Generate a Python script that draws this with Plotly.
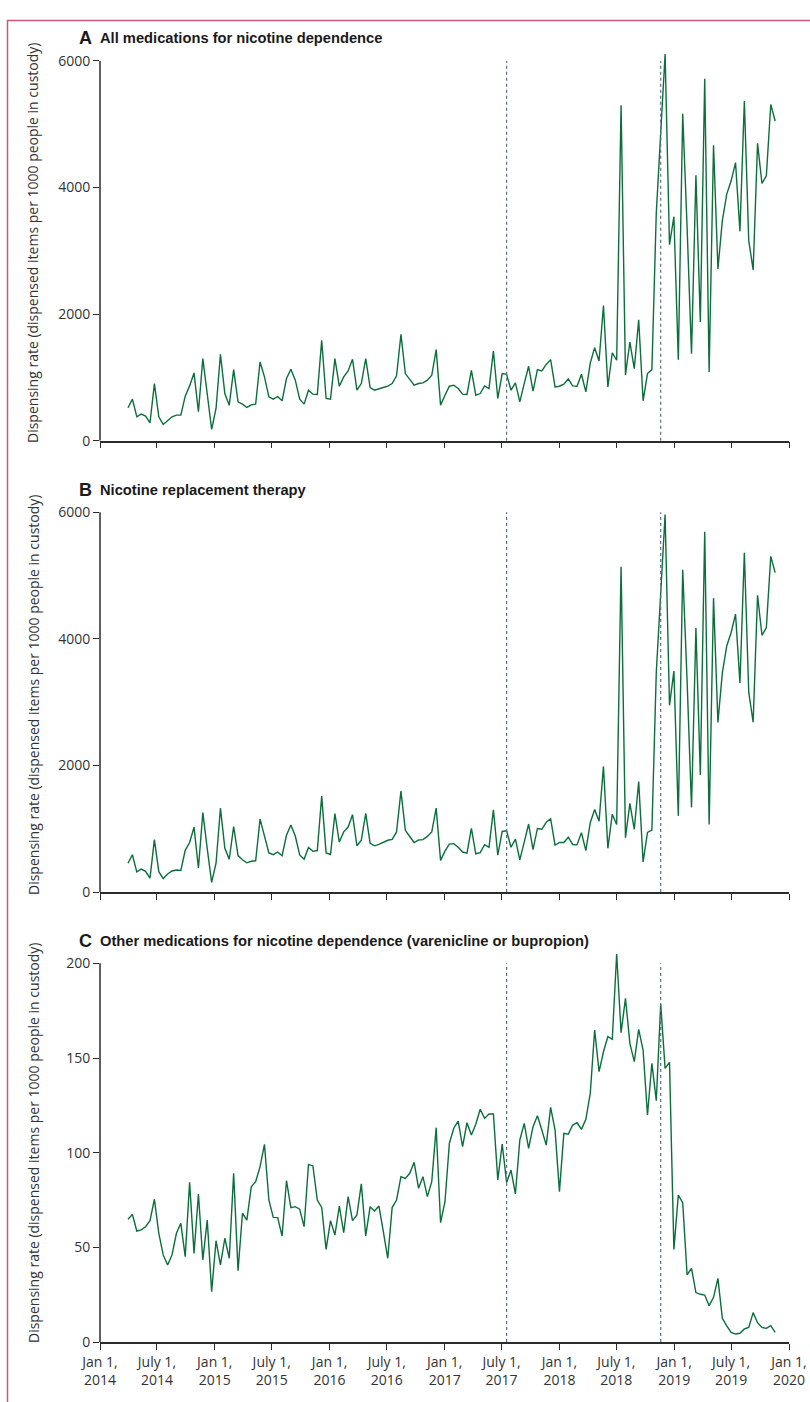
import pandas as pd
import plotly.graph_objects as go

# ---- data -------------------------------------------------------------
start_date = "2014-03-31"
n_periods = 148
period = "14D"

all_meds = [520, 656, 378, 420, 388, 283, 903, 378, 257, 325, 378, 404, 404, 703, 866, 1071, 457, 1297, 750, 178,
            509, 1365, 745, 562, 1124, 614, 578, 525, 567, 578, 1244, 1008, 693, 656, 698, 630, 982, 1129, 956, 656,
            578, 798, 735, 730, 1586, 667, 656, 1297, 861, 1008, 1103, 1286, 798, 903, 1297, 840, 798, 824, 840, 861,
            903, 1024, 1680, 1061, 966, 877, 903, 914, 956, 1034, 1439, 562, 719, 861, 877, 824, 735, 730, 1113, 719,
            745, 866, 824, 1418, 667, 1061, 1050, 798, 914, 614, 903, 1176, 782, 1124, 1103, 1205, 1281, 851, 861, 893,
            975, 866, 861, 1050, 772, 1225, 1470, 1260, 2137, 851, 1390, 1271, 5300, 1040, 1559, 1139, 1911, 630, 1061, 1124,
            3600, 4900, 6110, 3098, 3539, 1281, 5166, 3370, 1376, 4195, 1874, 5717, 1087, 4667, 2714, 3476, 3896, 4106, 4394, 3308,
            5366, 3161, 2699, 4699, 4064, 4184, 5313, 5051]

nrt = [455, 589, 319, 361, 327, 219, 828, 321, 211, 284, 332, 347, 341, 658, 782, 1024, 379, 1254, 686, 151,
       455, 1324, 690, 518, 1035, 576, 510, 461, 485, 493, 1151, 904, 618, 590, 632, 574, 897, 1058, 884, 586,
       517, 704, 642, 655, 1515, 618, 592, 1240, 789, 950, 1026, 1222, 731, 819, 1241, 768, 729, 752, 782, 817,
       832, 949, 1593, 975, 877, 782, 822, 827, 879, 949, 1326, 499, 645, 756, 764, 707, 632, 614, 1004, 604,
       622, 748, 704, 1298, 581, 956, 966, 707, 836, 507, 787, 1074, 668, 1004, 991, 1101, 1157, 739, 782, 783,
       865, 751, 745, 938, 654, 1094, 1305, 1117, 1984, 690, 1230, 1066, 5137, 858, 1401, 991, 1746, 476, 941, 977,
       3472, 4721, 5965, 2950, 3490, 1203, 5092, 3335, 1337, 4169, 1849, 5692, 1068, 4643, 2680, 3463, 3887, 4101, 4390, 3303,
       5359, 3153, 2683, 4689, 4056, 4177, 5304, 5046]

other_meds = [64.8, 67.4, 58.6, 59.2, 60.9, 64.1, 75.4, 57.4, 46.0, 40.7, 46.0, 57.4, 62.7, 45.1, 84.3, 46.8, 78.2, 43.3, 64.4, 26.6,
              53.5, 40.7, 54.8, 44.2, 89.1, 37.7, 68.0, 64.4, 82.0, 84.7, 92.6, 104.4, 75.0, 65.8, 65.7, 56.0, 85.2, 71.0, 71.5, 70.2,
              60.9, 93.8, 93.0, 75.0, 71.1, 48.9, 64.1, 56.5, 71.8, 57.7, 76.8, 64.1, 67.1, 83.5, 56.0, 71.5, 69.2, 71.8, 58.3, 44.2,
              71.0, 75.0, 87.3, 86.4, 89.1, 94.9, 81.2, 87.3, 76.8, 84.7, 113.2, 63.0, 74.1, 104.9, 112.9, 116.7, 103.2, 115.8, 109.3, 115.0,
              122.9, 118.1, 120.4, 120.4, 85.6, 104.6, 84.2, 90.8, 78.2, 106.7, 115.5, 102.3, 113.7, 119.5, 112.0, 104.0, 123.9, 112.0, 79.4, 110.2,
              109.7, 114.6, 115.8, 112.3, 117.6, 131.3, 164.8, 142.8, 153.3, 161.3, 159.9, 204.9, 163.4, 181.5, 157.7, 148.1, 165.1, 154.2, 119.9, 147.2,
              127.5, 178.5, 144.5, 147.7, 48.9, 77.6, 73.6, 35.4, 38.9, 26.1, 25.2, 24.8, 19.2, 23.6, 33.6, 12.5, 8.5, 5.1, 4.2, 4.6,
              6.9, 7.7, 15.5, 10.2, 7.7, 7.2, 8.6, 5.1]

event_dates = ["2017-07-17", "2018-11-19"]

tick_dates = ["2014-01-01", "2014-07-01", "2015-01-01", "2015-07-01", "2016-01-01", "2016-07-01", "2017-01-01",
              "2017-07-01", "2018-01-01", "2018-07-01", "2019-01-01", "2019-07-01", "2020-01-01"]
tick_labels = ["Jan 1,<br>2014", "July 1,<br>2014", "Jan 1,<br>2015", "July 1,<br>2015", "Jan 1,<br>2016",
               "July 1,<br>2016", "Jan 1,<br>2017", "July 1,<br>2017", "Jan 1,<br>2018", "July 1,<br>2018",
               "Jan 1,<br>2019", "July 1,<br>2019", "Jan 1,<br>2020"]

panel_letters = ["A", "B", "C"]
panel_titles = ["All medications for nicotine dependence",
                "Nicotine replacement therapy",
                "Other medications for nicotine dependence (varenicline or bupropion)"]
y_title = "Dispensing rate (dispensed items per 1000 people in custody)"
y_ticks = [[0, 2000, 4000, 6000], [0, 2000, 4000, 6000], [0, 50, 100, 150, 200]]
y_tops = [6000, 6000, 200]
y_ranges = [[0, 6200], [0, 6200], [0, 210]]

dates = pd.date_range(start_date, periods=n_periods, freq=period)
series = [all_meds, nrt, other_meds]

# ---- layout geometry (pixels) ------------------------------------------
W, H = 810, 1402
X_LEFT, X_RIGHT = 100, 789
panels_px = [(48.3, 440.7), (499.6, 892.0), (944.4, 1342.0)]  # (top, bottom)
title_y = [38, 490, 941]
ytitle_y = [243, 695, 1143]


def fx(p):
    return p / W


def fy(p):
    return 1 - p / H


GREEN = "#0b6e3b"
AXIS = "#2b2b2b"
DASH = "#5d7080"
TICK_FONT = dict(family="Open Sans, Liberation Sans", size=14, color="#333333")

fig = go.Figure()
shapes = []
annotations = []

for i in range(3):
    sfx = "" if i == 0 else str(i + 1)
    xa = "x" + sfx
    ya = "y" + sfx
    fig.add_trace(go.Scatter(x=dates, y=series[i], mode="lines",
                             line=dict(color=GREEN, width=1.4),
                             xaxis=xa, yaxis=ya, showlegend=False, hoverinfo="skip"))
    top, bot = panels_px[i]
    fig.layout["xaxis" + sfx] = dict(
        domain=[fx(X_LEFT), fx(X_RIGHT)], anchor=ya, type="date",
        range=["2014-01-01", "2020-01-01"], showgrid=False, zeroline=False,
        showline=True, linecolor=AXIS, linewidth=1.5,
        ticks="outside", ticklen=6, tickwidth=1.3, tickcolor=AXIS,
        tickvals=tick_dates, ticktext=tick_labels,
        showticklabels=(i == 2), tickfont=TICK_FONT, automargin=False)
    fig.layout["yaxis" + sfx] = dict(
        domain=[fy(bot), fy(top)], anchor=xa, range=y_ranges[i],
        showgrid=False, zeroline=False, showline=False,
        ticks="outside", ticklen=6, tickwidth=1.3, tickcolor=AXIS,
        tickvals=y_ticks[i], tickfont=TICK_FONT, automargin=False)
    # y-axis line up to top tick
    shapes.append(dict(type="line", xref=xa + " domain", x0=0, x1=0, yref=ya,
                       y0=0, y1=y_tops[i], line=dict(color=AXIS, width=1.5)))
    # event dashed lines
    for d in event_dates:
        shapes.append(dict(type="line", xref=xa, x0=d, x1=d, yref=ya, y0=0, y1=y_tops[i],
                           line=dict(color=DASH, width=1.2, dash="3px,3px")))
    # titles
    annotations.append(dict(xref="paper", yref="paper", x=fx(77), y=fy(title_y[i]),
                            xanchor="left", yanchor="middle", showarrow=False,
                            text="<b>" + panel_letters[i] + "</b>",
                            font=dict(family="Liberation Sans Narrow, Liberation Sans", size=18, color="#1a1a1a")))
    annotations.append(dict(xref="paper", yref="paper", x=fx(98), y=fy(title_y[i]),
                            xanchor="left", yanchor="middle", showarrow=False,
                            text="<b>" + panel_titles[i] + "</b>",
                            font=dict(family="Liberation Sans Narrow, Liberation Sans", size=14.7, color="#1a1a1a")))
    annotations.append(dict(xref="paper", yref="paper", x=fx(33), y=fy(ytitle_y[i]),
                            xanchor="center", yanchor="middle", showarrow=False, textangle=-90,
                            text=y_title,
                            font=dict(family="Open Sans, Liberation Sans", size=14, color="#333333")))

# pink frame
shapes.append(dict(type="rect", xref="paper", yref="paper", x0=fx(7.5), x1=1.05,
                   y0=-0.05, y1=fy(20.5), line=dict(color="#c9587c", width=1.5)))

fig.update_layout(width=W, height=H, margin=dict(l=0, r=0, t=0, b=0),
                  paper_bgcolor="white", plot_bgcolor="white",
                  shapes=shapes, annotations=annotations)

fig.write_html("out.html")
